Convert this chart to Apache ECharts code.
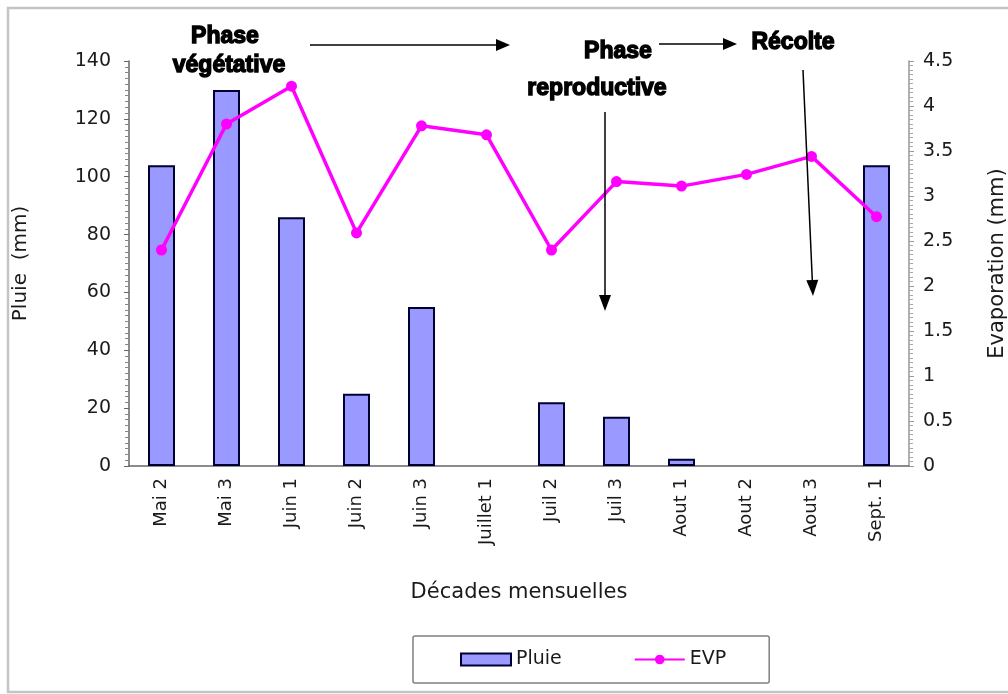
<!DOCTYPE html>
<html>
<head>
<meta charset="utf-8">
<script src="https://cdn.jsdelivr.net/npm/echarts@6/dist/echarts.min.js"></script>
<style>
  html, body { margin: 0; padding: 0; background: #fff; }
  #chart { width: 1008px; height: 694px; }
</style>
</head>
<body>
<div id="chart"></div>
<script>
// Ten-day periods (décades) from May to early September
const decades = ['Mai 2', 'Mai 3', 'Juin 1', 'Juin 2', 'Juin 3', 'Juillet 1',
                 'Juil 2', 'Juil 3', 'Aout 1', 'Aout 2', 'Aout 3', 'Sept. 1'];
// Rainfall per décade (mm)
const pluie = [104, 130, 86, 25, 55, 0, 22, 17, 2.5, 0, 0, 104];
// Evaporation per décade (mm)
const evp = [2.40, 3.80, 4.22, 2.59, 3.78, 3.68, 2.40, 3.16, 3.11, 3.24, 3.44, 2.77];

const chart = echarts.init(document.getElementById('chart'), null, { renderer: 'canvas' });

const FONT = 'DejaVu Sans, Arial, sans-serif';
const BOLD = 'Liberation Sans, Arial, sans-serif';
const INK = '#1a1a1a';

// Arrow helper: shaft + triangular head
function arrow(x1, y1, x2, y2, head) {
  const ang = Math.atan2(y2 - y1, x2 - x1);
  const h = head || 12, w = 6;
  const bx = x2 - h * Math.cos(ang), by = y2 - h * Math.sin(ang);
  const px = -Math.sin(ang) * w, py = Math.cos(ang) * w;
  return [
    { type: 'line', shape: { x1, y1, x2: bx, y2: by }, style: { stroke: '#000', lineWidth: 1.5 }, z: 20 },
    { type: 'polygon', shape: { points: [[x2, y2], [bx + px, by + py], [bx - px, by - py]] },
      style: { fill: '#000' }, z: 20 }
  ];
}

function phaseText(x, y, text) {
  return {
    type: 'text', x, y, z: 20,
    style: {
      text, fill: '#000', font: '900 23px ' + BOLD,
      align: 'center', verticalAlign: 'middle',
      stroke: '#000', lineWidth: 1.4
    }
  };
}

// Empty décades get no bar outline
const pluieData = pluie.map(v => v === 0 ? { value: v, itemStyle: { borderWidth: 0 } } : v);

const option = {
  backgroundColor: '#fff',
  animation: false,
  grid: { left: 129, right: 99, top: 61, bottom: 228, outerBoundsMode: 'none', containLabel: false },
  legend: {
    left: 413, top: 636,
    itemGap: 72, itemWidth: 50, itemHeight: 12,
    padding: [14, 43, 14, 47],
    borderColor: '#808080', borderWidth: 1.5, borderRadius: 2,
    textStyle: { fontFamily: FONT, fontSize: 19, color: INK },
    data: [
      { name: 'Pluie', icon: 'rect' },
      { name: 'EVP' }
    ]
  },
  xAxis: {
    type: 'category',
    data: decades,
    name: 'Décades mensuelles',
    nameLocation: 'middle',
    nameGap: 116,
    nameTextStyle: { fontFamily: FONT, fontSize: 21, color: INK },
    axisLine: { lineStyle: { color: '#666', width: 1.5 } },
    axisTick: { lineStyle: { color: '#666' }, length: 6 },
    axisLabel: { rotate: 90, fontFamily: FONT, fontSize: 18, color: INK, margin: 12 }
  },
  yAxis: [
    {
      type: 'value', min: 0, max: 140, interval: 20,
      name: 'Pluie  (mm)', nameLocation: 'middle', nameGap: 98,
      nameTextStyle: { fontFamily: FONT, fontSize: 20, color: INK },
      axisLine: { show: true, lineStyle: { color: '#666', width: 1.5 } },
      axisTick: { show: true, length: 5, lineStyle: { color: '#666' } },
      minorTick: { show: true, splitNumber: 10, length: 4, lineStyle: { color: '#888' } },
      splitLine: { show: false },
      axisLabel: { fontFamily: FONT, fontSize: 19, color: INK, margin: 18 }
    },
    {
      type: 'value', min: 0, max: 4.5, interval: 0.5,
      name: 'Evaporation (mm)', nameLocation: 'middle', nameGap: 78,
      nameTextStyle: { fontFamily: FONT, fontSize: 21, color: INK },
      axisLine: { show: true, lineStyle: { color: '#999', width: 1.5 } },
      axisTick: { show: true, length: 5, lineStyle: { color: '#999' } },
      minorTick: { show: true, splitNumber: 10, length: 4, lineStyle: { color: '#aaa' } },
      splitLine: { show: false },
      axisLabel: { fontFamily: FONT, fontSize: 19, color: INK, margin: 14 }
    }
  ],
  series: [
    {
      name: 'Pluie', type: 'bar', yAxisIndex: 0, data: pluieData,
      barWidth: 27,
      itemStyle: { color: '#9999ff', borderColor: '#000033', borderWidth: 2 },
      z: 2
    },
    {
      name: 'EVP', type: 'line', yAxisIndex: 1, data: evp,
      symbol: 'circle', symbolSize: 11,
      lineStyle: { color: '#ff00ff', width: 3.5 },
      itemStyle: { color: '#ff00ff' },
      z: 3
    }
  ],
  graphic: [
    // outer frame (right edge runs past the canvas)
    { type: 'rect', shape: { x: 8, y: 8, width: 1010, height: 684 },
      style: { fill: null, stroke: '#c4c4c4', lineWidth: 2.5 }, z: 0 },
    phaseText(225, 37, 'Phase'),
    phaseText(229, 66, 'végétative'),
    ...arrow(310, 45, 510, 45, 14),
    phaseText(618, 52, 'Phase'),
    phaseText(597, 89, 'reproductive'),
    ...arrow(659, 44, 737, 44, 14),
    phaseText(793, 43, 'Récolte'),
    ...arrow(605, 112, 605, 311, 16),
    ...arrow(803, 70, 813, 296, 16)
  ]
};

chart.setOption(option);
</script>
</body>
</html>
